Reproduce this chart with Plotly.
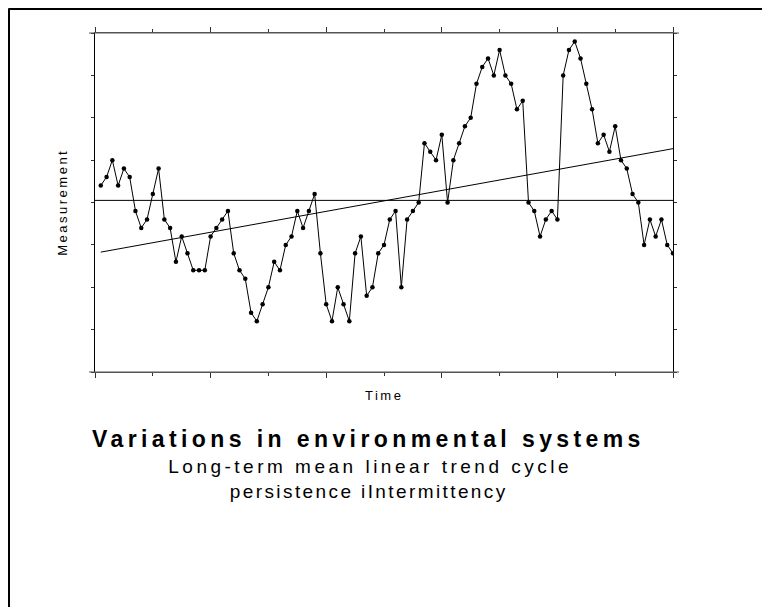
import numpy as np
import plotly.graph_objects as go

# ---- data ----
time_index = list(range(1, 101))
measurement = [
    22, 23, 25, 22, 24, 23, 19, 17, 18, 21,
    24, 18, 17, 13, 16, 14, 12, 12, 12, 16,
    17, 18, 19, 14, 12, 11, 7, 6, 8, 10,
    13, 12, 15, 16, 19, 17, 19, 21, 14, 8,
    6, 10, 8, 6, 14, 16, 9, 10, 14, 15,
    18, 19, 10, 18, 19, 20, 27, 26, 25, 28,
    20, 25, 27, 29, 30, 34, 36, 37, 35, 38,
    35, 34, 31, 32, 20, 19, 16, 18, 19, 18,
    35, 38, 39, 37, 34, 31, 27, 28, 26, 29,
    25, 24, 21, 20, 15, 18, 16, 18, 15, 14,
]
x_range = [0, 100]
y_range = [0, 40]

title_text = "Variations in environmental systems"
subtitle_line1 = "Long-term mean linear trend cycle"
subtitle_line2 = "persistence iIntermittency"
x_title = "Time"
y_title = "Measurement"

# ---- derived ----
x_arr = np.array(time_index, dtype=float)
y_arr = np.array(measurement, dtype=float)
mean_val = float(y_arr.mean())
slope, intercept = np.polyfit(x_arr, y_arr, 1)
trend = slope * x_arr + intercept

FONT = "Liberation Sans, Arial, sans-serif"

fig = go.Figure()
fig.add_trace(go.Scatter(
    x=time_index, y=measurement, mode="lines+markers",
    line=dict(color="black", width=1),
    marker=dict(color="black", size=4.5),
    showlegend=False, hoverinfo="skip",
))
fig.add_trace(go.Scatter(
    x=time_index, y=trend.tolist(), mode="lines",
    line=dict(color="black", width=1),
    showlegend=False, hoverinfo="skip",
))
fig.add_hline(y=mean_val, line=dict(color="black", width=1))

# page offset of the figure inside the browser window (body margin)
OFF = 8
L, T = 87, 25
PW, PH = 578, 339
W, H = 770, 607
R = W - L - PW
B = H - T - PH

def px_to_paper_x(px):
    return (px - OFF - L) / PW

def px_to_paper_y(py):
    return (H - B - (py - OFF)) / PH

# outer frame (left and top edges of the figure)
frame_x = (0.5 - L) / PW
frame_y = (H - B - 0.5) / PH
fig.add_shape(type="line", xref="paper", yref="paper",
              x0=frame_x, x1=frame_x, y0=(H - B - H - 20) / PH, y1=frame_y,
              line=dict(color="black", width=3))
fig.add_shape(type="line", xref="paper", yref="paper",
              x0=frame_x, x1=(W + 20 - L) / PW, y0=frame_y, y1=frame_y,
              line=dict(color="black", width=3))

# horizontal axis lines run a few pixels past the plot corners
ext = 6 / PW
for yy in (0, 1):
    fig.add_shape(type="line", xref="paper", yref="paper",
                  x0=-ext, x1=1 + ext, y0=yy, y1=yy,
                  line=dict(color="#555555", width=1.2))

fig.update_xaxes(
    range=x_range, showgrid=False, zeroline=False,
    showline=True, linecolor="#555555", linewidth=1.2, mirror="ticks",
    ticks="outside", ticklen=5, tickcolor="#333333", tickwidth=1,
    dtick=20, tick0=0, showticklabels=False,
    minor=dict(dtick=10, tick0=0, ticks="outside", ticklen=3, tickcolor="#333333"),
)
fig.update_yaxes(
    range=y_range, showgrid=False, zeroline=False,
    showline=True, linecolor="black", linewidth=1.2, mirror="ticks",
    ticks="outside", ticklen=3, tickcolor="#333333", tickwidth=1,
    dtick=5, tick0=0, showticklabels=False,
)

annos = [
    dict(text=x_title, x=px_to_paper_x(384), y=px_to_paper_y(395), size=13, bold=False),
    dict(text=title_text, x=px_to_paper_x(368), y=px_to_paper_y(439), size=23, bold=True),
    dict(text=subtitle_line1, x=px_to_paper_x(370), y=px_to_paper_y(466), size=19, bold=False),
    dict(text=subtitle_line2, x=px_to_paper_x(369), y=px_to_paper_y(491), size=19, bold=False),
]
for a in annos:
    fig.add_annotation(
        text=a["text"], x=a["x"], y=a["y"], xref="paper", yref="paper",
        xanchor="center", yanchor="middle", showarrow=False,
        font=dict(family=FONT, size=a["size"], color="black",
                  weight="bold" if a["bold"] else "normal"),
    )
fig.add_annotation(
    text=y_title, x=px_to_paper_x(62), y=px_to_paper_y(202), xref="paper", yref="paper",
    xanchor="center", yanchor="middle", showarrow=False, textangle=-90,
    font=dict(family=FONT, size=13, color="black"),
)

fig.update_layout(
    width=W, height=H, autosize=False,
    margin=dict(l=L, r=R, t=T, b=B),
    paper_bgcolor="white", plot_bgcolor="white",
    font=dict(family=FONT, color="black"),
)

spacing_js = """
var sp = {'%s':'4.4px','%s':'3.5px','%s':'2.4px','%s':'2.5px','%s':'2.5px'};
document.querySelectorAll('.annotation-text').forEach(function(t){
  var k = t.textContent;
  if (sp[k]) { t.style.letterSpacing = sp[k]; }
});
""" % (title_text, subtitle_line1, subtitle_line2, x_title, y_title)

fig.write_html("out.html", post_script=spacing_js)
